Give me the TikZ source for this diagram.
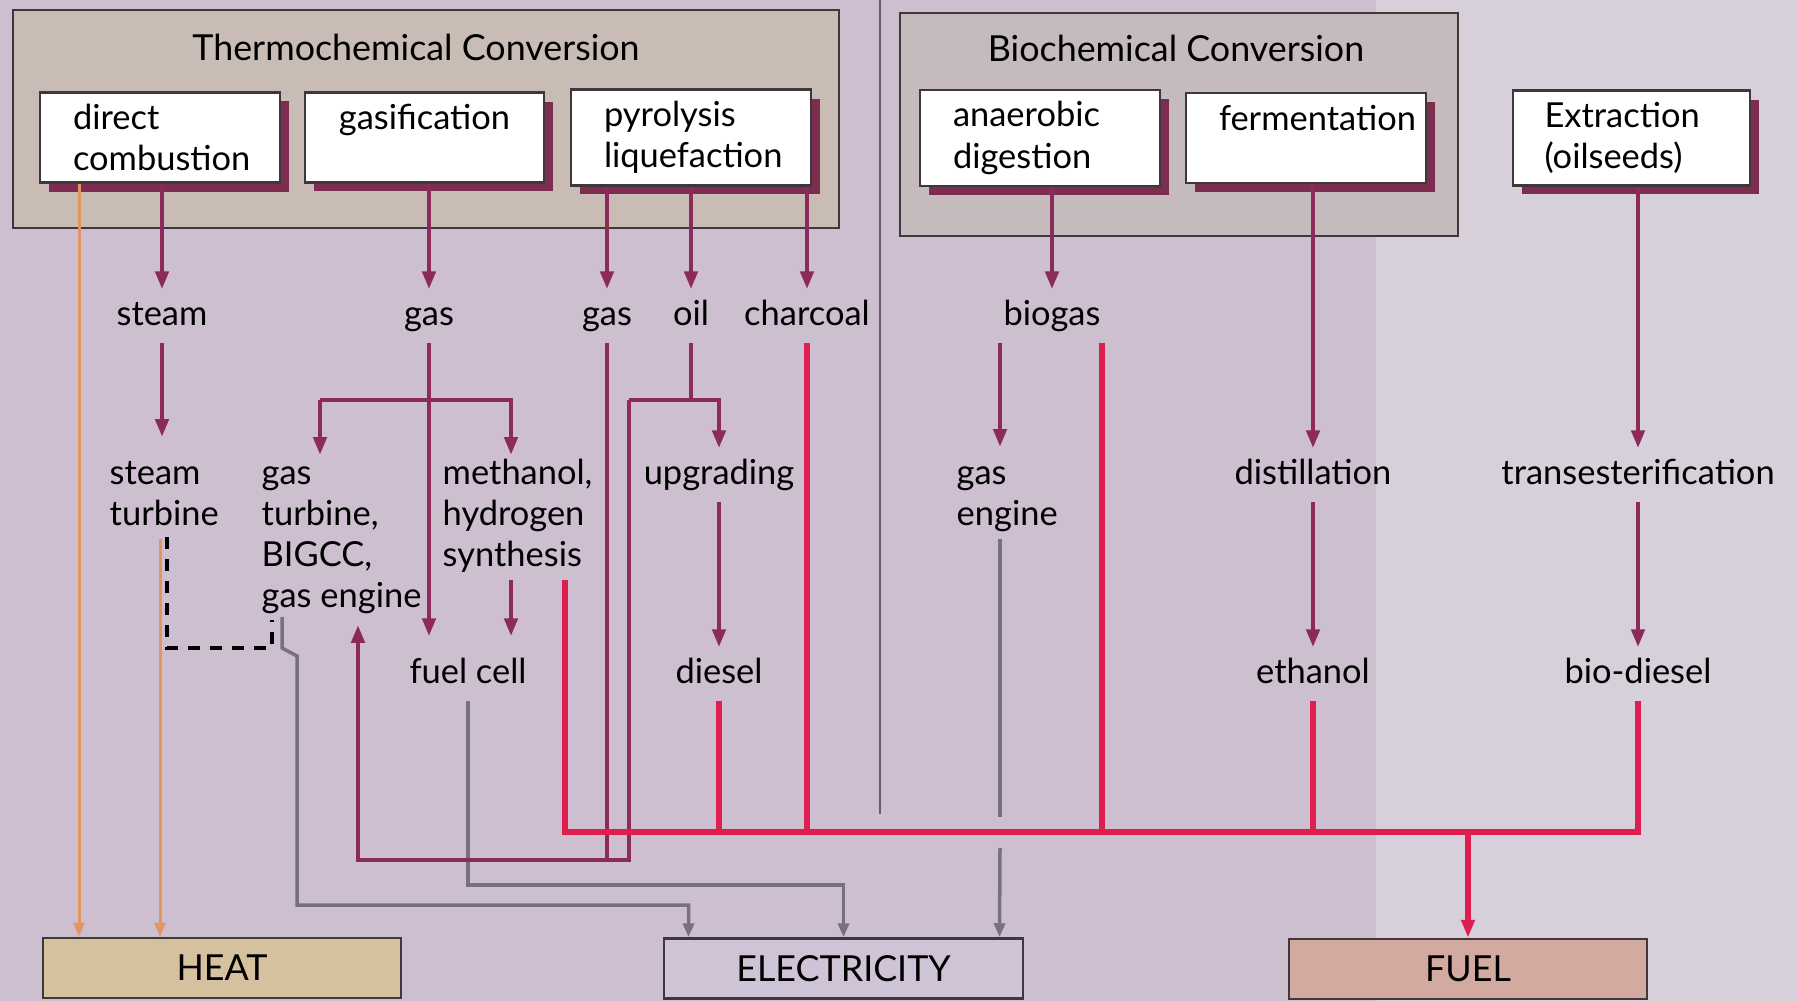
\documentclass[tikz,border=0pt]{standalone}
\usepackage{fontspec}
\setmainfont{Lato}
\usepackage{tikz}
\usetikzlibrary{arrows.meta,shadows}
\usepackage{xcolor}
\definecolor{bgleft}{RGB}{205,191,208}
\definecolor{bgright}{RGB}{215,207,218}
\definecolor{thermofill}{RGB}{200,188,180}
\definecolor{biofill}{RGB}{197,186,188}
\definecolor{edgecol}{RGB}{62,55,60}
\definecolor{shadowc}{RGB}{125,45,80}
\definecolor{plum}{RGB}{140,42,92}
\definecolor{fuelred}{RGB}{222,30,80}
\definecolor{elecgrey}{RGB}{120,112,128}
\definecolor{heatorange}{RGB}{226,150,95}
\definecolor{heatfill}{RGB}{214,193,158}
\definecolor{elecfill}{RGB}{207,196,214}
\definecolor{fuelfill}{RGB}{211,170,160}

\begin{document}
\begin{tikzpicture}[x=0.1mm,y=-0.1mm,>={Triangle[length=1.8mm,width=1.3mm]},
  font=\fontsize{9.8}{11.7}\selectfont,line cap=butt,
  frame/.style={draw=edgecol,line width=0.25mm},
  titlefont/.style={font=\fontsize{10.2}{12}\selectfont},
  procbox/.style={draw=edgecol,line width=0.25mm,fill=white,minimum height=8.9mm,
    inner xsep=0,text width=17.4mm,
    drop shadow={shadow xshift=0.9mm,shadow yshift=-0.9mm,fill=shadowc,opacity=1}},
  outbox/.style={draw=edgecol,line width=0.25mm,minimum height=6mm,font=\fontsize{10.2}{12}\selectfont},
  lbl/.style={inner xsep=0,inner ysep=0.9mm,text height=2.6mm,text depth=0.8mm,anchor=base},
  mlbl/.style={inner sep=0,align=left,anchor=north west},
  arr/.style={draw=plum,line width=0.45mm,->},
  plumline/.style={draw=plum,line width=0.45mm},
  fuelline/.style={draw=fuelred,line width=0.55mm},
  elecline/.style={draw=elecgrey,line width=0.35mm,>={Triangle[length=1.4mm,width=1.1mm]}},
  heatline/.style={draw=heatorange,line width=0.3mm,>={Triangle[length=1.4mm,width=1.1mm]}},
  dashline/.style={draw=black,line width=0.35mm,dash pattern=on 1.2mm off 1mm}]
\useasboundingbox (0,0) rectangle (1797,1001);
\fill[bgleft] (0,0) rectangle (1376,1001);
\fill[bgright] (1376,0) rectangle (1797,1001);

% conversion groups
\node[frame,fill=thermofill,minimum width=82.6mm,minimum height=21.8mm] (thermo) at (426,119) {};
\node[frame,fill=biofill,minimum width=55.8mm,minimum height=22.3mm] (bio) at (1179,124.5) {};
\node[titlefont,anchor=base] (thermotitle) at (416,61) {Thermochemical Conversion};
\node[titlefont,anchor=base] (biotitle) at (1176,62) {Biochemical Conversion};
\draw[draw=edgecol!80,line width=0.2mm] (880,0) -- (880,814);

\node[procbox,minimum width=24mm,align=left] (dc) at (160,137.5) {direct\\combustion};
\node[procbox,minimum width=23.9mm,align=center] (gasif) at (424.5,137.5) {gasification\\\phantom{x}};
\node[procbox,minimum width=24mm,align=left] (pyro) at (691,137.5) {pyrolysis\\liquefaction};
\node[procbox,minimum width=24mm,align=left] (anaer) at (1040,138) {anaerobic\\digestion};
\node[procbox,minimum width=24mm,align=center] (ferm) at (1306,138) {fermentation\\\phantom{x}};
\node[procbox,minimum width=23.7mm,align=left] (extr) at (1631.5,138) {Extraction\\(oilseeds)};

% products
\node[lbl] (steam) at (162,325) {steam};
\node[lbl] (gasA) at (429,325) {gas};
\node[lbl] (gasB) at (607,325) {gas};
\node[lbl] (oil) at (691,325) {oil};
\node[lbl] (charcoal) at (807,325) {charcoal};
\node[lbl] (biogas) at (1052,325) {biogas};

\node[mlbl] (stturb) at (109,455) {\strut steam\\turbine\strut};
\node[mlbl] (gasturb) at (261,455) {\strut gas\\turbine,\\BIGCC,\\gas engine\strut};
\node[mlbl] (methanol) at (442,455) {\strut methanol,\\hydrogen\\synthesis\strut};
\node[mlbl] (gaseng) at (956,455) {\strut gas\\engine\strut};
\node[lbl] (upgr) at (719,484) {upgrading};
\node[lbl] (distill) at (1313,484) {distillation};
\node[lbl] (trans) at (1638,484) {transesterification};

\node[lbl] (fuelcell) at (468,683) {fuel cell};
\node[lbl] (diesel) at (719,683) {diesel};
\node[lbl] (ethanol) at (1313,683) {ethanol};
\node[lbl] (biodiesel) at (1638,683) {bio-diesel};

\node[outbox,fill=heatfill,minimum width=35.8mm] (heat) at (222,968) {HEAT};
\node[outbox,fill=elecfill,minimum width=35.9mm] (elec) at (843.5,968.5) {ELECTRICITY};
\node[outbox,fill=fuelfill,minimum width=35.8mm] (fuel) at (1468,969) {FUEL};

% junctions
\coordinate (gsplitL) at (320,400);
\coordinate (gsplitR) at (511,400);
\coordinate (osplitL) at (629,400);
\coordinate (osplitR) at (719,400);
\coordinate (gjoin) at (358,860);
\coordinate (busL) at (565,832);
\coordinate (bgtap) at ([xshift=5mm]biogas.south);
\coordinate (gtout) at (282,617);
\coordinate (fcbend) at (468,885);
\coordinate (gapT) at (1000,817);
\coordinate (gapB) at (1000,848);
\coordinate (elecL) at ([xshift=-15.5mm]elec.north);
\coordinate (elecR) at ([xshift=15.6mm]elec.north);
\coordinate (heatL) at ([xshift=-14.3mm]heat.north);
\coordinate (heatM) at ([xshift=-6.2mm]heat.north);

% heat
\draw[heatline,->] (dc.south -| heatL) -- (heatL);
\draw[heatline,->] (stturb.south -| heatM) -- (heatM);
\draw[dashline] (167,537) |- (272,648) -- (272,620);

% electricity
\draw[elecline,->] (gtout) -- ++(0,31) -- ++(15,8) -- (297,905) -| (elecL);
\draw[elecline,->] (fuelcell.south) -- (fuelcell.south |- fcbend) -| (elec.north);
\draw[elecline] (gaseng.south -| gapT) -- (gapT);
\draw[elecline,->] (gapB) -- (elecR);

% thermochemical routes
\draw[arr] (dc.south -| steam) -- (steam.north);
\draw[arr,shorten >=1.8mm] (steam.south) -- (stturb.north -| steam);
\draw[arr] (gasif.south -| gasA) -- (gasA.north);
\draw[arr,shorten >=1.1mm] (gasA.south) -- (fuelcell.north -| gasA);
\draw[arr] (gsplitL) -- (gsplitL |- gasturb.north);
\draw[arr] (gsplitL) -- (gsplitR) -- (gsplitR |- methanol.north);
\draw[arr,shorten >=1.1mm] (methanol.south -| gsplitR) -- (fuelcell.north -| gsplitR);
\draw[arr] (pyro.south -| gasB) -- (gasB.north);
\draw[arr] (pyro.south -| oil) -- (oil.north);
\draw[arr] (pyro.south -| charcoal) -- (charcoal.north);
\draw[plumline] (oil.south) -- (oil |- osplitL);
\draw[arr] (osplitL) -- (osplitR) -- (upgr.north);
\draw[plumline] (osplitL) -- (osplitL |- gjoin) -- (gasB |- gjoin);
\draw[arr,shorten >=0.4mm] (gasB.south) -- (gasB |- gjoin) -- (gjoin) -- (gjoin |- gasturb.south);
\draw[arr] (upgr.south) -- (diesel.north);

% biochemical routes
\draw[arr] (anaer.south -| biogas) -- (biogas.north);
\draw[arr,shorten >=0.8mm] (biogas.south -| gapT) -- (gaseng.north -| gapT);
\draw[arr] (ferm.south -| distill) -- (distill.north);
\draw[arr] (distill.south) -- (ethanol.north);
\draw[arr] (extr.south -| trans) -- (trans.north);
\draw[arr] (trans.south) -- (biodiesel.north);

% fuel
\draw[fuelline] (methanol.south -| busL) -- (busL) -- (biodiesel |- busL) -- (biodiesel.south);
\draw[fuelline] (charcoal.south) -- (charcoal |- busL);
\draw[fuelline] (diesel.south) -- (diesel |- busL);
\draw[fuelline] (bgtap) -- (bgtap |- busL);
\draw[fuelline] (ethanol.south) -- (ethanol |- busL);
\draw[fuelline,->] (fuel.north |- busL) -- (fuel.north);
\end{tikzpicture}
\end{document}
